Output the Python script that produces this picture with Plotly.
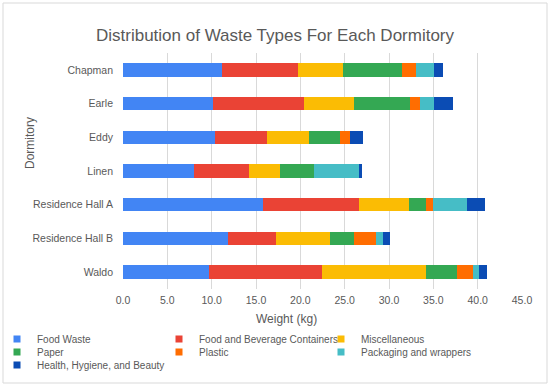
import plotly.graph_objects as go

dorms = ["Chapman", "Earle", "Eddy", "Linen", "Residence Hall A", "Residence Hall B", "Waldo"]
food_waste = [11.2, 10.1, 10.4, 8.0, 15.8, 11.8, 9.7]
food_bev_containers = [8.5, 10.35, 5.8, 6.2, 10.8, 5.4, 12.7]
miscellaneous = [5.15, 5.65, 4.8, 3.5, 5.65, 6.1, 11.8]
paper = [6.65, 6.3, 3.5, 3.8, 1.9, 2.75, 3.5]
plastic = [1.6, 1.1, 1.1, 0.0, 0.8, 2.45, 1.8]
packaging = [1.95, 1.6, 0.0, 5.2, 3.8, 0.85, 0.7]
health = [1.0, 2.1, 1.45, 0.2, 2.1, 0.75, 0.9]

series_names = ["Food Waste", "Food and Beverage Containers", "Miscellaneous", "Paper",
                "Plastic", "Packaging and wrappers", "Health, Hygiene, and Beauty"]
series_values = [food_waste, food_bev_containers, miscellaneous, paper, plastic, packaging, health]
series_colors = ["#4285F4", "#EA4335", "#FBBC04", "#34A853", "#FF6D01", "#46BDC6", "#0B4CB4"]
legend_rows = ["legend", "legend", "legend", "legend2", "legend2", "legend2", "legend3"]

tick_vals = [0, 5, 10, 15, 20, 25, 30, 35, 40, 45]
tick_text = ["0.0", "5.0", "10.0", "15.0", "20.0", "25.0", "30.0", "35.0", "40.0", "45.0"]

W, H = 550, 386
ML, MR, MT, MB = 123, 28, 53, 97
PW, PH = W - ML - MR, H - MT - MB

def px_x(p):
    return (p - ML) / PW

def px_y(p):
    return (H - MB - p) / PH

fig = go.Figure()
for name, vals, color in zip(series_names, series_values, series_colors):
    fig.add_trace(go.Bar(
        y=dorms, x=vals, name=name, orientation="h",
        marker=dict(color=color, line=dict(width=0)),
        showlegend=False,
    ))
# legend entries (small square swatches, as in the reference)
for name, color, lg in zip(series_names, series_colors, legend_rows):
    fig.add_trace(go.Scatter(
        x=[None], y=[None], mode="markers", name=name,
        marker=dict(symbol="square", size=7, color=color),
        legend=lg, showlegend=True, hoverinfo="skip",
    ))

font_family = "Liberation Sans, Arial, sans-serif"
grey = "#595959"

def legend_cfg(row_y, ew=117):
    return dict(orientation="h", xref="paper", yref="paper",
                x=px_x(-3), xanchor="left", y=px_y(row_y), yanchor="middle",
                traceorder="normal", entrywidth=ew, entrywidthmode="pixels",
                font=dict(size=10, color=grey), itemwidth=30,
                bgcolor="rgba(0,0,0,0)", borderwidth=0)

fig.update_layout(
    width=W, height=H,
    barmode="stack", bargap=0.6,
    paper_bgcolor="white", plot_bgcolor="white",
    margin=dict(l=ML, r=MR, t=MT, b=MB, autoexpand=False),
    font=dict(family=font_family, color=grey, size=11),
    title=dict(text="Distribution of Waste Types For Each Dormitory",
               x=0.5, xref="container", xanchor="center",
               y=1 - 35 / H, yref="container", yanchor="middle",
               font=dict(size=17, color=grey)),
    xaxis=dict(range=[0, 45], tickvals=tick_vals, ticktext=tick_text,
               showgrid=True, gridcolor="#D9D9D9", gridwidth=1,
               zeroline=False, showline=False, ticks="", automargin=False,
               ticklabelstandoff=3,
               tickfont=dict(size=10.5, color=grey)),
    yaxis=dict(autorange="reversed", showgrid=False, zeroline=False,
               ticks="", ticklabelstandoff=9, automargin=False,
               tickfont=dict(size=10.5, color=grey)),
    legend=legend_cfg(339),
    legend2=legend_cfg(352),
    legend3=legend_cfg(365, ew=200),
    annotations=[
        dict(text="Weight (kg)", xref="paper", yref="paper",
             x=px_x(286), y=px_y(319), xanchor="center", yanchor="middle",
             showarrow=False, font=dict(size=12, color=grey)),
        dict(text="Dormitory", xref="paper", yref="paper",
             x=px_x(30), y=px_y(143), xanchor="center", yanchor="middle",
             textangle=-90, showarrow=False, font=dict(size=12, color=grey)),
    ],
    shapes=[dict(type="rect", xref="paper", yref="paper",
                 x0=px_x(3), x1=px_x(547), y0=px_y(383), y1=px_y(3),
                 line=dict(color="#D9D9D9", width=1), fillcolor="rgba(0,0,0,0)",
                 layer="below")],
)

fig.write_html("out.html", config={"displayModeBar": False},
               post_script="document.body.style.margin='0';document.body.style.overflow='hidden';")
